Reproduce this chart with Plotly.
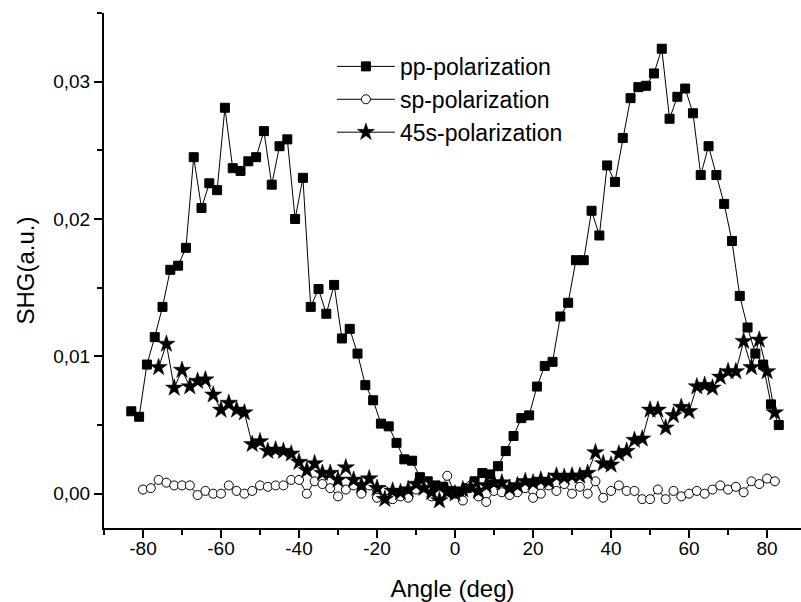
import plotly.graph_objects as go

# ---- data ----
pp_angle = [-83, -81, -79, -77, -75, -73, -71, -69, -67, -65, -63, -61, -59, -57, -55, -53, -51, -49,
            -47, -45, -43, -41, -39, -37, -35, -33, -31, -29, -27, -25, -23, -21, -19, -17, -15, -13,
            -11, -9, -7, -5, -3, -1, 1, 3, 5, 7, 9, 11, 13, 15, 17, 19, 21, 23, 25, 27, 29, 31, 33,
            35, 37, 39, 41, 43, 45, 47, 49, 51, 53, 55, 57, 59, 61, 63, 65, 67, 69, 71, 73, 75, 77,
            79, 81, 83]
pp_shg = [0.0060, 0.0056, 0.0094, 0.0114, 0.0136, 0.0163, 0.0166, 0.0179, 0.0245, 0.0208, 0.0226,
          0.0221, 0.0281, 0.0237, 0.0235, 0.0242, 0.0245, 0.0264, 0.0225, 0.0253, 0.0258, 0.0200,
          0.0230, 0.0136, 0.0149, 0.0131, 0.0152, 0.0113, 0.0120, 0.0102, 0.0079, 0.0068, 0.0051,
          0.0049, 0.0037, 0.0025, 0.0024, 0.0012, 0.0009, 0.0006, 0.0005, 0.0002, 0.0001, 0.0004,
          0.0009, 0.0015, 0.0014, 0.0020, 0.0031, 0.0042, 0.0055, 0.0057, 0.0078, 0.0093, 0.0096,
          0.0129, 0.0139, 0.0170, 0.0170, 0.0206, 0.0188, 0.0239, 0.0227, 0.0259, 0.0288, 0.0296,
          0.0297, 0.0306, 0.0324, 0.0273, 0.0289, 0.0295, 0.0277, 0.0232, 0.0253, 0.0232, 0.0211,
          0.0184, 0.0144, 0.0121, 0.0102, 0.0094, 0.0065, 0.0050]

sp_angle = [-80, -78, -76, -74, -72, -70, -68, -66, -64, -62, -60, -58, -56, -54, -52, -50, -48, -46,
            -44, -42, -40, -38, -36, -34, -32, -30, -28, -26, -24, -22, -20, -18, -16, -14, -12, -10,
            -8, -6, -4, -2, 0, 2, 4, 6, 8, 10, 12, 14, 16, 18, 20, 22, 24, 26, 28, 30, 32, 34, 36, 38,
            40, 42, 44, 46, 48, 50, 52, 54, 56, 58, 60, 62, 64, 66, 68, 70, 72, 74, 76, 78, 80, 82]
sp_shg = [0.0003, 0.0004, 0.0010, 0.0008, 0.0006, 0.0006, 0.0006, -0.0001, 0.0002, 0.0000, 0.0000,
          0.0006, 0.0002, 0.0000, 0.0002, 0.0006, 0.0005, 0.0006, 0.0006, 0.0010, 0.0010, 0.0000,
          0.0009, 0.0007, 0.0004, -0.0002, 0.0003, 0.0006, 0.0000, 0.0006, -0.0003, 0.0002, -0.0004,
          -0.0002, -0.0003, 0.0003, 0.0006, -0.0002, 0.0000, 0.0013, 0.0000, -0.0005, 0.0006,
          -0.0002, -0.0006, 0.0002, 0.0001, -0.0001, 0.0001, 0.0004, -0.0003, 0.0000, 0.0006,
          0.0002, 0.0007, 0.0000, 0.0005, 0.0000, 0.0009, -0.0003, 0.0002, 0.0006, 0.0002, 0.0002,
          -0.0004, -0.0004, 0.0003, -0.0004, 0.0002, -0.0002, 0.0000, 0.0002, 0.0000, 0.0003,
          0.0006, 0.0003, 0.0005, 0.0001, 0.0009, 0.0007, 0.0011, 0.0009]

s45_angle = [-76, -74, -72, -70, -68, -66, -64, -62, -60, -58, -56, -54, -52, -50, -48, -46, -44, -42,
             -40, -38, -36, -34, -32, -30, -28, -26, -24, -22, -20, -18, -16, -14, -12, -10, -8, -6,
             -4, -2, 0, 2, 4, 6, 8, 10, 12, 14, 16, 18, 20, 22, 24, 26, 28, 30, 32, 34, 36, 38, 40,
             42, 44, 46, 48, 50, 52, 54, 56, 58, 60, 62, 64, 66, 68, 70, 72, 74, 76, 78, 80, 82]
s45_shg = [0.0092, 0.0109, 0.0077, 0.0090, 0.0078, 0.0082, 0.0083, 0.0072, 0.0061, 0.0066, 0.0061,
           0.0059, 0.0036, 0.0038, 0.0031, 0.0032, 0.0031, 0.0029, 0.0023, 0.0017, 0.0022, 0.0015,
           0.0015, 0.0010, 0.0019, 0.0010, 0.0006, 0.0011, 0.0004, -0.0004, 0.0002, 0.0001, 0.0003,
           0.0007, 0.0004, 0.0001, -0.0005, 0.0001, 0.0000, 0.0003, 0.0005, 0.0002, 0.0006, 0.0008,
           0.0008, 0.0004, 0.0006, 0.0009, 0.0008, 0.0010, 0.0009, 0.0013, 0.0012, 0.0013, 0.0013,
           0.0015, 0.0030, 0.0022, 0.0021, 0.0029, 0.0031, 0.0039, 0.0040, 0.0061, 0.0061, 0.0048,
           0.0057, 0.0063, 0.0060, 0.0078, 0.0079, 0.0077, 0.0085, 0.0089, 0.0089, 0.0111, 0.0092,
           0.0112, 0.0089, 0.0059]

x_ticks = [-80, -60, -40, -20, 0, 20, 40, 60, 80]
x_tick_labels = ["-80", "-60", "-40", "-20", "0", "20", "40", "60", "80"]
y_ticks = [0.00, 0.01, 0.02, 0.03]
y_tick_labels = ["0,00", "0,01", "0,02", "0,03"]

FONT = "Liberation Sans, Arial, sans-serif"

fig = go.Figure()
fig.add_trace(go.Scatter(
    x=pp_angle, y=pp_shg, mode="lines+markers", name="pp-polarization",
    line=dict(color="black", width=1),
    marker=dict(symbol="square", size=9, color="black", line=dict(color="black", width=1))))
fig.add_trace(go.Scatter(
    x=sp_angle, y=sp_shg, mode="lines+markers", name="sp-polarization",
    line=dict(color="black", width=1),
    marker=dict(symbol="circle", size=9, color="white", line=dict(color="black", width=1))))
fig.add_trace(go.Scatter(
    x=s45_angle, y=s45_shg, mode="lines+markers", name="45s-polarization",
    line=dict(color="black", width=1),
    marker=dict(symbol="star", size=13, color="black", line=dict(color="black", width=0.5))))

axis_common = dict(
    showline=True, linecolor="black", linewidth=2, mirror=False,
    showgrid=False, zeroline=False,
    ticks="outside", ticklen=8, tickwidth=2, tickcolor="black",
    tickfont=dict(family=FONT, size=19, color="black"),
)

fig.update_layout(
    width=801, height=602,
    margin=dict(l=104, r=0, t=13, b=74),
    paper_bgcolor="white", plot_bgcolor="white",
    font=dict(family=FONT, color="black"),
    showlegend=True,
    legend=dict(
        x=0.327, y=0.938, xanchor="left", yanchor="top",
        font=dict(family=FONT, size=23, color="black"),
        bgcolor="rgba(0,0,0,0)", borderwidth=0,
        itemwidth=58, tracegroupgap=0,
    ),
    xaxis=dict(
        **axis_common,
        range=[-90, 88.7],
        tickmode="array", tickvals=x_ticks, ticktext=x_tick_labels,
        ticklabelstandoff=-6,
        minor=dict(dtick=10, tick0=0, ticks="outside", ticklen=5, tickwidth=2, tickcolor="black"),
        title=dict(text="Angle (deg)", font=dict(family=FONT, size=24, color="black"), standoff=26),
    ),
    yaxis=dict(
        **axis_common,
        range=[-0.0025, 0.035],
        tickmode="array", tickvals=y_ticks, ticktext=y_tick_labels,
        minor=dict(dtick=0.005, tick0=0, ticks="outside", ticklen=5, tickwidth=2, tickcolor="black"),
        title=dict(text="SHG(a.u.)", font=dict(family=FONT, size=24, color="black"), standoff=12),
    ),
)

fig.write_html("out.html")
